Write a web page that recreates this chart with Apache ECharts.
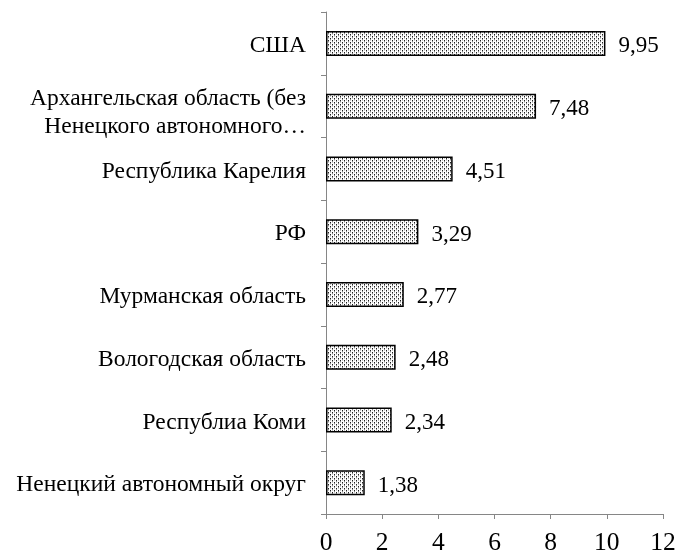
<!DOCTYPE html>
<html><head><meta charset="utf-8">
<script src="https://cdn.jsdelivr.net/npm/echarts@6/dist/echarts.min.js"></script>
<style>html,body{margin:0;padding:0;background:#fff}#c{width:679px;height:551px}</style>
</head><body><div id="c"></div>
<script>
var categories = ["США", "Архангельская область (без\nНенецкого автономного…", "Республика Карелия", "РФ", "Мурманская область", "Вологодская область", "Республиа Коми", "Ненецкий автономный округ"];
var values = [9.95, 7.48, 4.51, 3.29, 2.77, 2.48, 2.34, 1.38];
var xTicks = [0, 2, 4, 6, 8, 10, 12];

var pc = document.createElement('canvas');
pc.width = 4; pc.height = 4;
var px = pc.getContext('2d');
px.fillStyle = '#ffffff'; px.fillRect(0, 0, 4, 4);
px.fillStyle = '#222222'; px.fillRect(0, 0, 1, 1); px.fillRect(2, 2, 1, 1);
px.fillStyle = '#8a8a8a'; px.fillRect(0, 1, 1, 1); px.fillRect(2, 3, 1, 1);
px.fillStyle = '#c8c8c8'; px.fillRect(0, 2, 1, 1); px.fillRect(2, 0, 1, 1);

var chart = echarts.init(document.getElementById('c'));
chart.setOption({
  animation: false,
  textStyle: {fontFamily: 'Liberation Serif'},
  grid: {left: 326, right: 16, top: 12, bottom: 37, containLabel: false, outerBoundsMode: 'none'},
  xAxis: {
    type: 'value', min: 0, max: 12, interval: 2,
    axisLine: {show: true, lineStyle: {color: '#868686', width: 1}},
    axisTick: {show: true, length: 5, lineStyle: {color: '#868686'}},
    splitLine: {show: false},
    axisLabel: {color: '#000', fontSize: 25.5, fontFamily: 'Liberation Serif', margin: 16,
      formatter: function (v) { return xTicks.indexOf(v) >= 0 ? String(v) : ''; }}
  },
  yAxis: {
    type: 'category', data: categories, inverse: true,
    axisLine: {show: true, lineStyle: {color: '#868686', width: 1}},
    axisTick: {show: true, length: 5, lineStyle: {color: '#868686'}},
    axisLabel: {color: '#000', fontSize: 23.5, fontFamily: 'Liberation Serif', margin: 20,
      formatter: function (v) {
        var lines = v.split('\n');
        var sp = lines.length > 1 ? '{s2| }' : '{s1| }';
        return sp + '\n' + lines.map(function (l) { return '{c|' + l + '}'; }).join('\n');
      },
      rich: {
        c: {fontSize: 23.5, fontFamily: 'Liberation Serif', color: '#000', lineHeight: 28},
        s1: {fontSize: 4, lineHeight: 5},
        s2: {fontSize: 4, lineHeight: 14}
      }
    }
  },
  series: [{
    type: 'bar', data: values, barWidth: 25,
    itemStyle: {color: {image: pc, repeat: 'repeat'}, borderColor: '#000', borderWidth: 1.5},
    label: {show: true, position: 'right', distance: 13, offset: [0, 3], color: '#000', fontSize: 23,
      fontFamily: 'Liberation Serif',
      formatter: function (p) { return p.value.toFixed(2).replace('.', ','); }}
  }]
});
</script></body></html>
